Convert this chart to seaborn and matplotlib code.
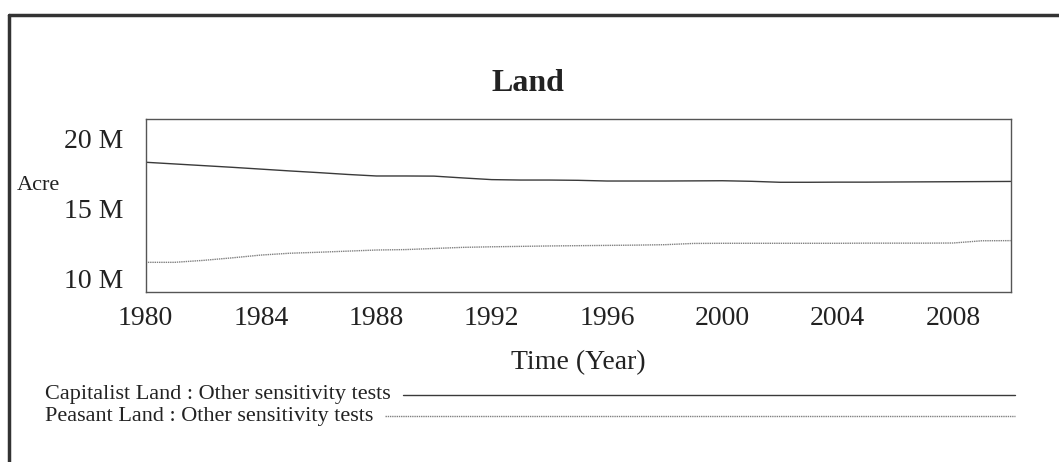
import pandas as pd
import seaborn as sns
import matplotlib.pyplot as plt
from matplotlib.lines import Line2D

# values, millions of acres
years = list(range(1980, 2011))
capitalist = [18.29, 18.17, 18.05, 17.93, 17.80, 17.67, 17.55, 17.42, 17.31, 17.31,
              17.30, 17.17, 17.05, 17.02, 17.02, 17.00, 16.95, 16.95, 16.95, 16.96,
              16.97, 16.93, 16.86, 16.86, 16.87, 16.87, 16.88, 16.89, 16.90, 16.91,
              16.92]
peasant = [11.14, 11.14, 11.28, 11.46, 11.66, 11.79, 11.86, 11.94, 12.02, 12.05,
           12.13, 12.21, 12.25, 12.28, 12.31, 12.33, 12.35, 12.37, 12.40, 12.49,
           12.50, 12.50, 12.50, 12.50, 12.50, 12.51, 12.51, 12.51, 12.52, 12.68,
           12.69]
series_names = ["Capitalist Land : Other sensitivity tests",
                "Peasant Land : Other sensitivity tests"]
x_ticks = [1980, 1984, 1988, 1992, 1996, 2000, 2004, 2008]
y_ticks = [10, 15, 20]
y_tick_labels = ["10 M", "15 M", "20 M"]

df = pd.DataFrame({"Year": years, "Capitalist": capitalist, "Peasant": peasant})

sns.set_style("white")
plt.rcParams["font.family"] = ["Liberation Serif", "DejaVu Serif"]

W, H = 1059, 462
fig = plt.figure(figsize=(W / 100, H / 100), dpi=100)


def fx(px):
    return px / W


def fy(py):
    return 1 - py / H


ax = fig.add_axes([fx(145.7), fy(292), fx(1010.7) - fx(145.7), fy(119.3) - fy(292)])
sns.lineplot(data=df, x="Year", y="Capitalist", ax=ax, color="#3a3a3a", linewidth=1.0)
sns.lineplot(data=df, x="Year", y="Peasant", ax=ax, color="#808080", linewidth=1.0,
             linestyle=(0, (1, 0.6)))

ax.set_xlim(1980, 2010)
ax.set_ylim(9.02, 21.36)
ax.set_xticks(x_ticks)
ax.set_xticklabels([str(t) for t in x_ticks])
ax.set_yticks(y_ticks)
ax.set_yticklabels(y_tick_labels)
ax.tick_params(axis="both", length=0, labelsize=20, colors="#222222")
ax.tick_params(axis="y", pad=16)
ax.tick_params(axis="x", pad=10)
for s in ax.spines.values():
    s.set_color("#555555")
    s.set_linewidth(1.0)
ax.set_ylabel("")
ax.set_xlabel("Time (Year)", fontsize=20, color="#222222", labelpad=14)

fig.text(fx(17), fy(186), "Acre", fontsize=16, color="#222222", ha="left", va="center")
fig.text(fx(528), fy(91), "Land", fontsize=23, fontweight="bold", color="#222222",
         ha="center", va="baseline")

# legend below the chart
fig.canvas.draw()
rend = fig.canvas.get_renderer()
leg_y = [395, 416]
leg_style = [dict(color="#3a3a3a", lw=1.0), dict(color="#808080", lw=1.0, ls=(0, (1, 0.6)))]
for name, py, st in zip(series_names, leg_y, leg_style):
    t = fig.text(fx(45), fy(py), name, fontsize=16, color="#222222", ha="left", va="center")
    bb = t.get_window_extent(rend)
    fig.add_artist(Line2D([fx(bb.x1 + 12), fx(1015)], [fy(py), fy(py)],
                          transform=fig.transFigure, **st))

# outer frame (top and left edges visible)
fig.add_artist(Line2D([fx(8.5), fx(W + 5)], [fy(14.5), fy(14.5)], transform=fig.transFigure,
                      color="#333333", lw=2.5))
fig.add_artist(Line2D([fx(8.5), fx(8.5)], [fy(14.5), fy(H + 5)], transform=fig.transFigure,
                      color="#333333", lw=2.5))

fig.savefig("out.png", dpi=100)
